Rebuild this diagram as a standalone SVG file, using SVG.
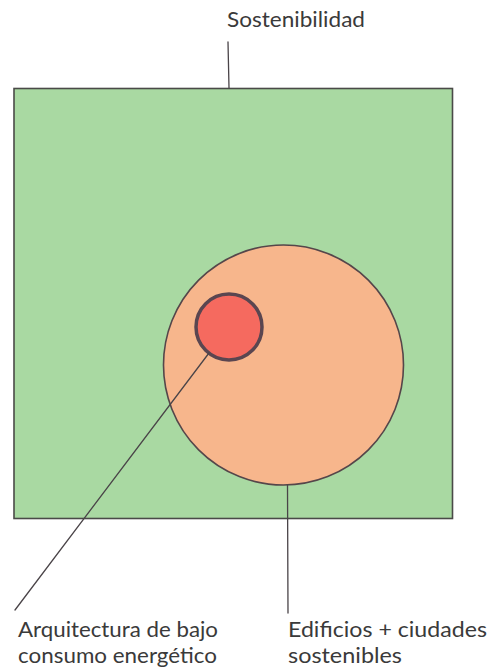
<svg xmlns="http://www.w3.org/2000/svg" width="492" height="668" viewBox="0 0 492 668">
<style>
.lbl{font-family:Lato,"Open Sans","DejaVu Sans",sans-serif;font-size:21.6px;fill:#3a3a3a}
.ln{fill:none;stroke:#4a4448;stroke-width:1.3;stroke-linecap:round}
</style>
<rect width="492" height="668" fill="#ffffff"/>
<g id="sostenibilidad">
<rect x="14" y="88.5" width="438.5" height="430" fill="#a9d9a2" stroke="#4a4a48" stroke-width="1.6"/>
<text class="lbl" x="227" y="27" textLength="138" lengthAdjust="spacingAndGlyphs">Sostenibilidad</text>
</g>
<g id="edificios">
<circle cx="283.5" cy="365" r="120" fill="#f7b68c" stroke="#55464a" stroke-width="1.6"/>
<text class="lbl" x="288" y="637" textLength="199" lengthAdjust="spacingAndGlyphs">Edificios + ciudades</text>
<text class="lbl" x="288" y="663" textLength="114" lengthAdjust="spacingAndGlyphs">sostenibles</text>
</g>
<g id="arquitectura">
<circle cx="229" cy="327" r="33" fill="#f56a5f" stroke="#5a4650" stroke-width="3.5"/>
<text class="lbl" x="18" y="637" textLength="200" lengthAdjust="spacingAndGlyphs">Arquitectura de bajo</text>
<text class="lbl" x="18" y="663" textLength="199" lengthAdjust="spacingAndGlyphs">consumo energético</text>
</g>
<g id="connectors">
<path class="ln" d="M228,42 L229,88"/>
<path class="ln" d="M287.5,485 L288,613"/>
<path class="ln" d="M209,353 L15,610"/>
</g>
</svg>
